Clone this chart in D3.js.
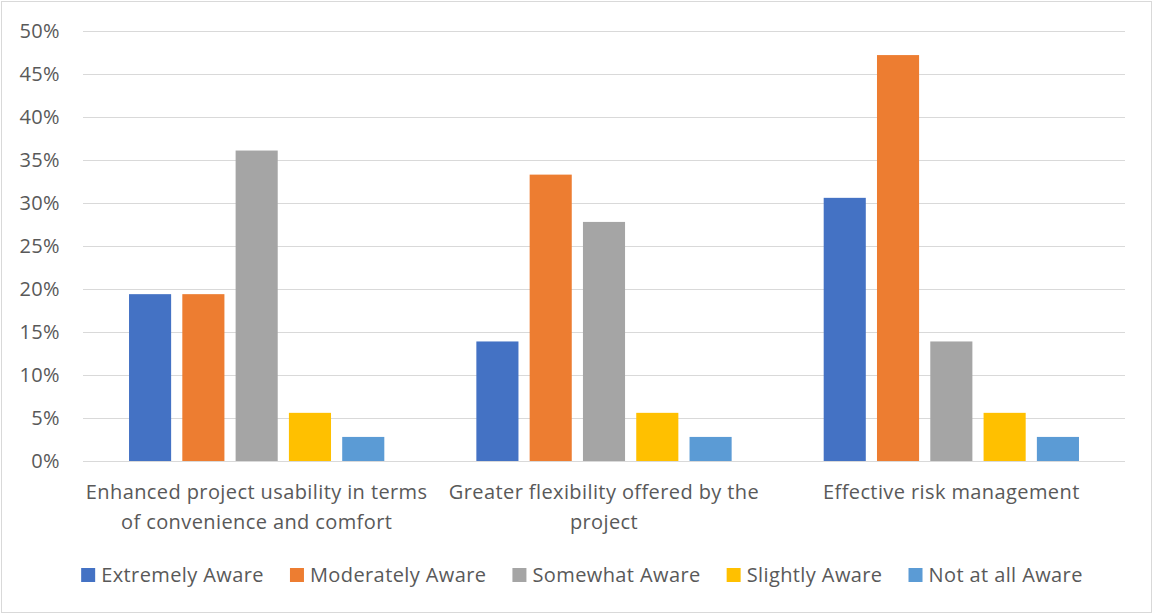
<!DOCTYPE html>
<html>
<head>
<meta charset="utf-8">
<script src="https://cdn.jsdelivr.net/npm/d3@7"></script>
<style>
  body { margin: 0; background: #fff; }
  svg text { font-family: "Open Sans", Lato, sans-serif; fill: #595959; font-size: 20px; letter-spacing: 0.4px; }
</style>
</head>
<body>
<div id="chart"></div>
<script>
// categories, with their wrapped tick label lines
var categories = ["usability", "flexibility", "risk"];
var categoryLines = [
  ["Enhanced project usability in terms", "of convenience and comfort"],
  ["Greater flexibility offered by the", "project"],
  ["Effective risk management"]
];

// series (values in percent, one per category)
var seriesNames = ["Extremely Aware", "Moderately Aware", "Somewhat Aware", "Slightly Aware", "Not at all Aware"];
var extremely  = [19.4, 13.9, 30.6];
var moderately = [19.4, 33.3, 47.2];
var somewhat   = [36.1, 27.8, 13.9];
var slightly   = [5.6, 5.6, 5.6];
var notAtAll   = [2.8, 2.8, 2.8];
var colors = ["#4472C4", "#ED7D31", "#A5A5A5", "#FFC000", "#5B9BD5"];
var yTicks = [0, 5, 10, 15, 20, 25, 30, 35, 40, 45, 50];

var seriesValues = [extremely, moderately, somewhat, slightly, notAtAll];

var W = 1153, H = 614;
var margin = {top: 31, right: 28, bottom: 153, left: 83};
var width = W - margin.left - margin.right,
    height = H - margin.top - margin.bottom;

var svg = d3.select("#chart").append("svg")
  .attr("width", W)
  .attr("height", H);

// chart border
svg.append("rect")
  .attr("x", 1.5).attr("y", 1.5)
  .attr("width", W - 3).attr("height", H - 3)
  .attr("fill", "#fff")
  .attr("stroke", "#d9d9d9")
  .attr("stroke-width", 1);

var g = svg.append("g")
  .attr("transform", "translate(" + margin.left + "," + margin.top + ")");

// scales
var x0 = d3.scaleBand().domain(categories).range([0, width]).padding(0);
var bw = x0.bandwidth();
var x1 = d3.scaleBand().domain(seriesNames)
  .range([bw * 0.1325, bw * 0.8675])
  .paddingInner(0.21).paddingOuter(0);
var y = d3.scaleLinear().domain([0, 50]).range([height, 0]);

// gridlines
g.append("g").attr("class", "grid")
  .selectAll("line")
  .data(yTicks)
  .enter().append("line")
    .attr("x1", 0).attr("x2", width)
    .attr("y1", function(d) { return Math.round(y(d)) + 0.5; })
    .attr("y2", function(d) { return Math.round(y(d)) + 0.5; })
    .attr("stroke", "#d9d9d9")
    .attr("stroke-width", 1);

// Y axis labels
var yAxis = g.append("g")
  .call(d3.axisLeft(y).tickValues(yTicks).tickSize(0).tickPadding(23)
    .tickFormat(function(d) { return d + "%"; }));
yAxis.select(".domain").remove();
yAxis.attr("font-size", null).attr("font-family", null);
yAxis.selectAll("text").attr("fill", "#595959");

// bars
var groups = g.selectAll(".group")
  .data(categories)
  .enter().append("g")
    .attr("class", "group")
    .attr("transform", function(d) { return "translate(" + x0(d) + ",0)"; });

groups.selectAll("rect")
  .data(function(d, i) {
    return seriesNames.map(function(s, j) { return {series: s, value: seriesValues[j][i], color: colors[j]}; });
  })
  .enter().append("rect")
    .attr("x", function(d) { return x1(d.series); })
    .attr("width", x1.bandwidth())
    .attr("y", function(d) { return y(d.value); })
    .attr("height", function(d) { return height - y(d.value); })
    .attr("fill", function(d) { return d.color; });

// baseline redrawn over bars
g.append("line")
  .attr("x1", 0).attr("x2", width)
  .attr("y1", Math.round(y(0)) + 0.5).attr("y2", Math.round(y(0)) + 0.5)
  .attr("stroke", "#d9d9d9");

// category labels
var xAxis = g.append("g")
  .attr("transform", "translate(0," + height + ")");
categories.forEach(function(c, i) {
  var t = xAxis.append("text")
    .attr("x", x0(c) + bw / 2)
    .attr("y", 38)
    .attr("text-anchor", "middle");
  categoryLines[i].forEach(function(line, k) {
    t.append("tspan")
      .attr("x", x0(c) + bw / 2)
      .attr("dy", k === 0 ? 0 : 30)
      .text(line);
  });
});

// legend
var legend = svg.append("g").attr("class", "legend");
var items = legend.selectAll("g")
  .data(seriesNames)
  .enter().append("g");
items.append("rect")
  .attr("width", 14).attr("height", 14)
  .attr("y", -7)
  .attr("fill", function(d, i) { return colors[i]; });
items.append("text")
  .attr("x", 20)
  .attr("dy", "0.35em")
  .text(function(d) { return d; });

var gap = 26;
var offset = 0;
items.each(function() {
  var tw = d3.select(this).select("text").node().getComputedTextLength();
  d3.select(this).attr("transform", "translate(" + offset + ",0)");
  offset += 20 + tw + gap;
});
var legendWidth = offset - gap;
legend.attr("transform", "translate(" + (582 - legendWidth / 2) + ",575)");
</script>
</body>
</html>
